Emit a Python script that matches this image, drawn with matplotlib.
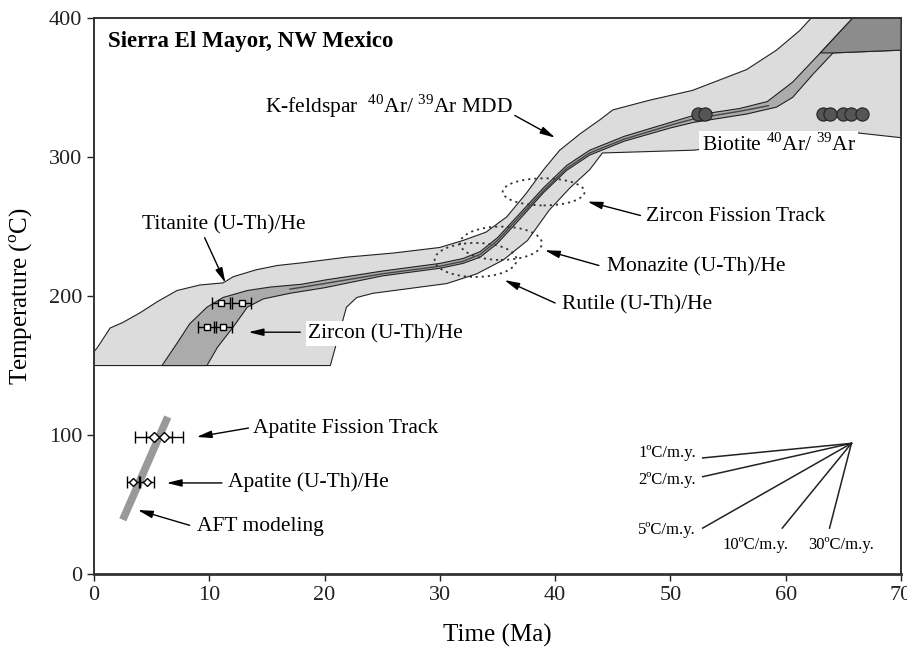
import matplotlib
matplotlib.use("Agg")
import matplotlib.pyplot as plt
from matplotlib.patches import Ellipse

plt.rcParams["font.family"] = ["Liberation Serif", "DejaVu Serif"]
plt.rcParams["mathtext.fontset"] = "custom"
plt.rcParams["mathtext.rm"] = "Liberation Serif"

# outer light envelope (K-feldspar MDD)
outer_up_x = [0, 0.3, 1.4, 2.5, 4.0, 5.5, 7.2, 9.2, 11.2, 12.1, 14.1, 15.9, 18.1, 21.9, 26, 30, 32, 34,
              35.8, 37.5, 39, 40.4, 42.2, 43.9, 45, 48.2, 51.9, 56.6, 59.2, 61.2, 62.2, 70]
outer_up_t = [160, 163, 177, 181, 188, 196, 204, 208, 209.5, 214, 219, 222, 224, 228, 231, 235, 240, 246,
              257, 274, 291, 305, 317, 327, 334, 341, 348, 363, 377, 391, 400, 400]
outer_lo_x = [0, 20.5, 21.9, 22.8, 24.2, 30.6, 33.2, 35.5, 37.6, 39.5, 41.3, 43, 44.1, 52, 65.6, 70]
outer_lo_t = [150, 150, 192, 199, 202, 209, 216, 226, 240, 262, 278, 291, 303, 305, 318, 314]

# medium band (zircon + thin path)
mid_up_x = [5.9, 7.2, 8.3, 9.8, 11.2, 13.3, 15.3, 18, 20, 25, 30, 32, 33.5, 35, 37, 39, 41, 43, 46, 50,
            52, 56, 58.4, 60.6, 63, 65.8]
mid_up_t = [150, 166, 180, 192, 199, 204, 206.5, 208.5, 211.5, 218, 223.5, 227, 232, 242, 260, 278, 294,
            305, 315, 325, 330, 335, 340, 354, 375, 400]
mid_lo_x = [9.8, 10.7, 12.1, 13.3, 14.7, 17, 20, 25, 30, 32, 33.5, 35, 37, 39, 41, 43, 46, 50, 52, 56.6,
            59.2, 60.6, 62.4, 64.1, 70, 70]
mid_lo_t = [150, 163, 178, 192, 198, 202, 206, 214.5, 220, 223.5, 228, 238, 256, 274.5, 290.5, 301.5, 311.5,
            321, 325, 331, 336, 343, 360, 375, 377, 400]

# thin central path
path_x = [17, 20, 25, 30, 32, 33.5, 35, 37, 39, 41, 43, 46, 50, 52, 56, 58.5]
path_t = [205, 209, 216, 221.5, 225, 230, 240, 258, 276, 292, 303, 313, 323, 327.5, 333, 337]

# dark corner
dark_x = [65.8, 63, 64.1, 70, 70]
dark_t = [400, 375, 375, 377, 400]

# data points
titanite_age = [11.0, 12.8]
titanite_err = [0.8, 0.8]
titanite_t = [195, 195]
zircon_age = [9.8, 11.2]
zircon_err = [0.8, 0.8]
zircon_t = [178, 178]
aft_age = [5.2, 6.1]
aft_err = [1.6, 1.6]
aft_t = [98.5, 98.5]
ahe_age = [3.4, 4.6]
ahe_err = [0.5, 0.6]
ahe_t = [66, 66]
biotite_age = [52.4, 53.0, 63.2, 63.8, 65.0, 65.7, 66.6]
biotite_t = [331, 331, 331, 331, 331, 331, 331]
aft_model_x = [2.5, 6.4]
aft_model_t = [39, 113]

# dotted ellipses: centre x, centre T, width, height
ell_x = [39.0, 35.3, 33.1]
ell_t = [275, 238, 226]
ell_w = [7.1, 7.1, 7.1]
ell_h = [19.5, 24, 24.5]

# cooling-rate fan
fan_x0, fan_t0 = 65.7, 94
fan_end_x = [52.8, 52.8, 52.8, 59.7, 63.8]
fan_end_t = [83.5, 70, 33, 33, 33]
fan_labels = ["1ºC/m.y.", "2ºC/m.y.", "5ºC/m.y.", "10ºC/m.y.", "30ºC/m.y."]

fig = plt.figure(figsize=(9.07, 6.5), dpi=100)
ax = fig.add_axes([0.1036, 0.117, 0.8898, 0.855])

ax.fill(outer_up_x + [70] + outer_lo_x[::-1], outer_up_t + [314] + outer_lo_t[::-1],
        facecolor="#dcdcdc", edgecolor="#222222", lw=0.8, zorder=1)
ax.fill(mid_up_x + mid_lo_x[::-1], mid_up_t + mid_lo_t[::-1],
        facecolor="#ababab", edgecolor="#222222", lw=0.8, zorder=2)
ax.fill(dark_x, dark_t, facecolor="#8c8c8c", edgecolor="#222222", lw=0.8, zorder=3)
ax.plot(path_x, path_t, color="#444444", lw=1.0, zorder=3)

for cx, ct, w, h in zip(ell_x, ell_t, ell_w, ell_h):
    ax.add_patch(Ellipse((cx, ct), w, h, fill=False, ls=(0, (1.2, 2.2)), lw=1.3,
                         edgecolor="#333333", zorder=4))

ax.plot(aft_model_x, aft_model_t, color="#999999", lw=5.5, solid_capstyle="butt", zorder=3)

ebkw = dict(ls="none", ecolor="black", elinewidth=1, capsize=4, capthick=1, mec="black",
            mfc="white", mew=1, zorder=5)
ax.errorbar(titanite_age, titanite_t, xerr=titanite_err, marker="s", ms=5, **ebkw)
ax.errorbar(zircon_age, zircon_t, xerr=zircon_err, marker="s", ms=5, **ebkw)
ax.errorbar(aft_age, aft_t, xerr=aft_err, marker="D", ms=5, **ebkw)
ax.errorbar(ahe_age, ahe_t, xerr=ahe_err, marker="D", ms=4, **ebkw)
ax.plot(biotite_age, biotite_t, "o", ms=9.5, mfc="#555555", mec="#222222", mew=0.8, zorder=5)

for ex, et in zip(fan_end_x, fan_end_t):
    ax.plot([ex, fan_x0], [et, fan_t0], color="#222222", lw=1.1, zorder=4)
fs_fan = 12
ax.text(52.2, 87, fan_labels[0], ha="right", va="center", fontsize=fs_fan)
ax.text(52.2, 67.5, fan_labels[1], ha="right", va="center", fontsize=fs_fan)
ax.text(52.2, 31.5, fan_labels[2], ha="right", va="center", fontsize=fs_fan)
ax.text(57.4, 21, fan_labels[3], ha="center", va="center", fontsize=fs_fan)
ax.text(64.8, 21, fan_labels[4], ha="center", va="center", fontsize=fs_fan)

ax.text(1.2, 383, "Sierra El Mayor, NW Mexico", fontsize=16.5, fontweight="bold", va="center")

fs = 15.5
akw = dict(arrowstyle="-|>,head_length=0.9,head_width=0.22", color="black", lw=1.0,
           shrinkA=0, shrinkB=0)


def label(text, tx, tt, ax_tail, at_tail, ax_head, at_head, box=False):
    t = ax.text(tx, tt, text, fontsize=fs, va="center", ha="left", zorder=6)
    if box:
        t.set_bbox(dict(facecolor="white", edgecolor="none", pad=2))
    ax.annotate("", xy=(ax_head, at_head), xytext=(ax_tail, at_tail), arrowprops=akw, zorder=6)


label(r"K-feldspar  $^{40}$Ar/ $^{39}$Ar MDD", 14.8, 337, 36.5, 330, 40.0, 314)
label("Zircon Fission Track", 47.9, 257, 47.4, 258, 42.8, 268)
label("Monazite (U-Th)/He", 44.5, 221, 43.8, 222, 39.1, 233)
label("Rutile (U-Th)/He", 40.6, 193.5, 40.0, 195, 35.6, 211.5)
label("Titanite (U-Th)/He", 4.2, 251, 9.6, 242, 11.4, 209.5)
label("Zircon (U-Th)/He", 18.6, 173, 17.9, 174, 13.4, 174, box=True)
label("Apatite Fission Track", 13.8, 105, 13.4, 105, 8.9, 98.6)
label("Apatite (U-Th)/He", 11.6, 66, 11.1, 65.5, 6.3, 65.5)
label("AFT modeling", 8.9, 34, 8.3, 35, 3.8, 46)
ax.text(52.7, 309, r"Biotite $^{40}$Ar/ $^{39}$Ar", fontsize=fs, va="center", ha="left", zorder=6,
        bbox=dict(facecolor="white", edgecolor="none", pad=2))

ax.set_xlim(0, 70)
ax.set_ylim(0, 400)
ax.set_xticks(range(0, 71, 10))
ax.set_yticks(range(0, 401, 100))
ax.tick_params(direction="out", length=5, width=1, labelsize=16, colors="#222222")
for s in ax.spines.values():
    s.set_linewidth(1.4)
    s.set_color("#333333")
ax.spines["bottom"].set_linewidth(2)
ax.set_xlabel("Time (Ma)", fontsize=18, labelpad=14)
ax.set_ylabel(r"Temperature ($^{\mathrm{o}}$C)", fontsize=18, labelpad=10)

fig.savefig("out.png", dpi=100)
